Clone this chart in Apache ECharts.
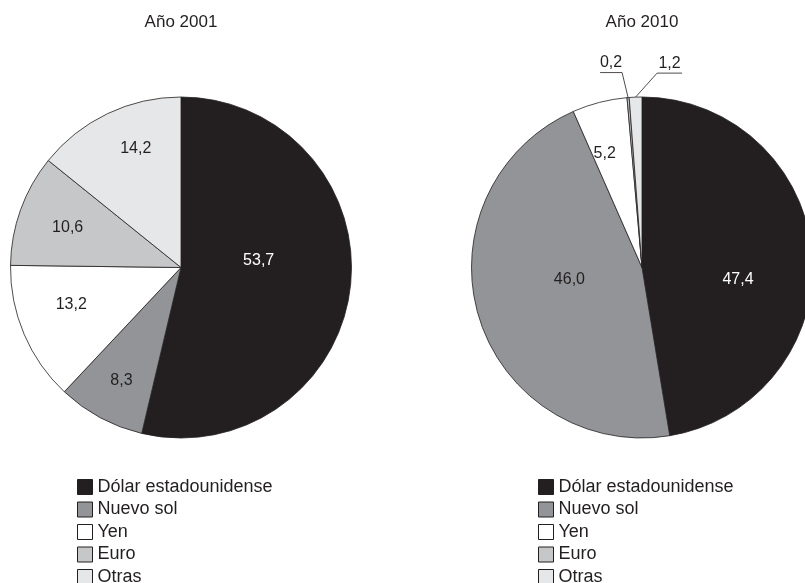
<!DOCTYPE html>
<html><head><meta charset="utf-8">
<script src="https://cdn.jsdelivr.net/npm/echarts@6/dist/echarts.min.js"></script>
<style>html,body{margin:0;padding:0;background:#fff}#c{width:805px;height:583px}</style>
</head><body><div id="c"></div>
<script>
// ---- data ----
const categories = ['Dólar estadounidense', 'Nuevo sol', 'Yen', 'Euro', 'Otras'];
const values2001 = [53.7, 8.3, 13.2, 10.6, 14.2];
const values2010 = [47.4, 46.0, 5.2, 0.2, 1.2];
const titles = ['Año 2001', 'Año 2010'];
// label placement mode per category
const labelMode2001 = ['main', 'outer', 'outer', 'outer', 'outer'];
const labelMode2010 = ['main', 'main', 'outer', 'callout', 'callout'];

// ---- style ----
const colors = ['#231f20', '#929497', '#ffffff', '#c6c7c9', '#e6e7e8'];
const labelColors = ['#ffffff', '#231f20', '#231f20', '#231f20', '#231f20'];
// small label nudges (px) per category, style only
const labelNudge2001 = [[-10, -17], [0, 2], [6, -12], [5, 3], [9, -5]];
const labelNudge2010 = [[8, 19], [12, -13], [-6, 8], [0, 0], [0, 0]];
const FONT = '"Liberation Sans", Arial, Helvetica, sans-serif';
const INK = '#231f20';
const R = 170.5;
const centers = [[181, 267.5], [642, 267.5]];

const fmt = v => v.toFixed(1).replace('.', ',');

function mainSeries(values, modes, nudge, center) {
  return {
    type: 'pie', center: center, radius: R, startAngle: 90, clockwise: true,
    avoidLabelOverlap: false, minAngle: 0, animation: false,
    emphasis: { disabled: true },
    itemStyle: { borderColor: INK, borderWidth: 0.8 },
    data: categories.map((name, i) => ({
      name, value: values[i],
      itemStyle: { color: colors[i] },
      label: {
        show: modes[i] === 'main' || modes[i] === 'callout',
        position: modes[i] === 'callout' ? 'outside' : 'inside',
        offset: nudge[i],
        color: labelColors[i], fontSize: 16, fontFamily: FONT,
        formatter: p => fmt(p.value)
      },
      labelLine: { show: modes[i] === 'callout', length: 20, length2: 10,
        lineStyle: { color: INK, width: 0.8 } }
    })),
    labelLayout: function (params) {
      const mode = modes[params.dataIndex];
      if (mode !== 'callout' || !params.labelLinePoints) return {};
      const e = params.labelLinePoints[0];
      const leftSide = params.dataIndex === 3;
      let p1, p2;
      if (leftSide) {
        p1 = [e[0] - 6, e[1] - 25];
        p2 = [p1[0] - 22, p1[1]];
      } else {
        p1 = [e[0] + 21.5, e[1] - 24];
        p2 = [p1[0] + 25, p1[1]];
      }
      return {
        x: (p1[0] + p2[0]) / 2, y: p1[1] - 2,
        align: 'center', verticalAlign: 'bottom',
        labelLinePoints: [e, p1, p2]
      };
    }
  };
}

function overlaySeries(values, modes, nudge, center) {
  return {
    type: 'pie', center: center, radius: R * 1.44, startAngle: 90, clockwise: true,
    avoidLabelOverlap: false, silent: true, animation: false,
    itemStyle: { color: 'rgba(0,0,0,0)', borderWidth: 0 },
    data: categories.map((name, i) => ({
      name, value: values[i],
      label: {
        show: modes[i] === 'outer', position: 'inside', offset: nudge[i],
        color: labelColors[i], fontSize: 16, fontFamily: FONT,
        formatter: p => fmt(p.value)
      },
      labelLine: { show: false }
    }))
  };
}

function legendFor(left) {
  return {
    orient: 'vertical', left: left, top: 478, height: 200, padding: 0,
    itemWidth: 15, itemHeight: 15,
    itemGap: 4.5, icon: 'rect', selectedMode: false, data: categories,
    itemStyle: { borderColor: INK, borderWidth: 1 },
    textStyle: { fontSize: 18, color: INK, fontFamily: FONT }
  };
}

const chart = echarts.init(document.getElementById('c'), null, { renderer: 'canvas' });
chart.setOption({
  backgroundColor: '#ffffff',
  animation: false,
  title: titles.map((t, i) => ({
    text: t, left: centers[i][0], top: 14, textAlign: 'center', padding: 0,
    textStyle: { fontSize: 17, fontWeight: 'normal', color: INK, fontFamily: FONT }
  })),
  legend: [legendFor(77), legendFor(538)],
  series: [
    mainSeries(values2001, labelMode2001, labelNudge2001, centers[0]),
    mainSeries(values2010, labelMode2010, labelNudge2010, centers[1]),
    overlaySeries(values2001, labelMode2001, labelNudge2001, centers[0]),
    overlaySeries(values2010, labelMode2010, labelNudge2010, centers[1])
  ]
});
</script>
</body></html>
